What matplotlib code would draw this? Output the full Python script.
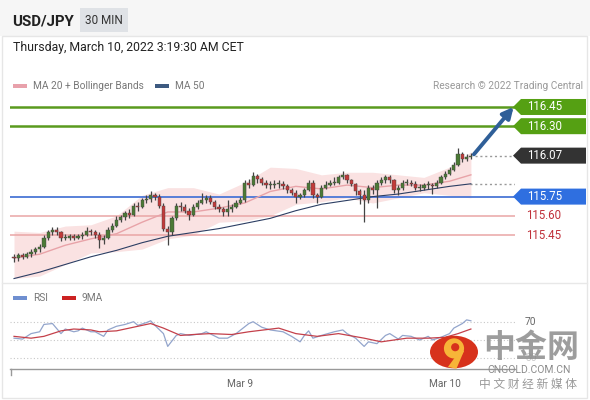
import matplotlib
matplotlib.use('Agg')
import matplotlib.pyplot as plt
from matplotlib.patches import Polygon, Rectangle, Circle
from matplotlib.lines import Line2D
import numpy as np

plt.rcParams['font.family'] = ['Roboto', 'Noto Sans CJK SC', 'DejaVu Sans']

# 30-minute candles, USD/JPY
opens = [115.28, 115.27, 115.29, 115.28, 115.30, 115.32, 115.34, 115.36, 115.43, 115.47,
         115.49, 115.47, 115.43, 115.43, 115.44, 115.43, 115.44, 115.45, 115.48, 115.47,
         115.45, 115.41, 115.43, 115.49, 115.52, 115.57, 115.59, 115.62, 115.61, 115.68,
         115.67, 115.72, 115.73, 115.76, 115.75, 115.68, 115.50, 115.47, 115.58, 115.68,
         115.67, 115.64, 115.61, 115.67, 115.70, 115.72, 115.74, 115.71, 115.67, 115.65,
         115.63, 115.65, 115.67, 115.70, 115.72, 115.86, 115.84, 115.91, 115.89, 115.86,
         115.84, 115.84, 115.85, 115.85, 115.83, 115.80, 115.78, 115.75, 115.76, 115.80,
         115.86, 115.76, 115.75, 115.82, 115.84, 115.86, 115.86, 115.90, 115.92, 115.88,
         115.85, 115.79, 115.76, 115.72, 115.82, 115.80, 115.86, 115.88, 115.90, 115.88,
         115.80, 115.82, 115.86, 115.86, 115.85, 115.82, 115.82, 115.84, 115.84, 115.83,
         115.86, 115.90, 115.93, 115.96, 116.00, 116.08, 116.04, 116.06]
highs = [115.30, 115.31, 115.31, 115.32, 115.34, 115.36, 115.38, 115.45, 115.49, 115.51,
         115.51, 115.48, 115.46, 115.46, 115.46, 115.46, 115.47, 115.51, 115.50, 115.49,
         115.47, 115.45, 115.51, 115.54, 115.60, 115.61, 115.64, 115.65, 115.70, 115.71,
         115.74, 115.76, 115.79, 115.78, 115.77, 115.70, 115.52, 115.60, 115.70, 115.71,
         115.69, 115.66, 115.69, 115.72, 115.78, 115.76, 115.76, 115.72, 115.69, 115.67,
         115.72, 115.69, 115.72, 115.75, 115.88, 115.89, 115.94, 115.93, 115.90, 115.88,
         115.87, 115.88, 115.88, 115.87, 115.85, 115.82, 115.80, 115.78, 115.82, 115.88,
         115.88, 115.78, 115.84, 115.87, 115.88, 115.90, 115.92, 115.95, 115.93, 115.89,
         115.86, 115.81, 115.80, 115.84, 115.84, 115.88, 115.90, 115.92, 115.92, 115.89,
         115.84, 115.88, 115.89, 115.88, 115.87, 115.85, 115.86, 115.87, 115.86, 115.88,
         115.92, 115.95, 115.98, 116.02, 116.13, 116.10, 116.08, 116.09]
lows = [115.24, 115.25, 115.26, 115.27, 115.28, 115.30, 115.32, 115.35, 115.41, 115.45,
        115.45, 115.40, 115.41, 115.41, 115.41, 115.42, 115.42, 115.44, 115.45, 115.43,
        115.35, 115.38, 115.42, 115.47, 115.51, 115.55, 115.57, 115.58, 115.60, 115.64,
        115.66, 115.70, 115.71, 115.72, 115.66, 115.48, 115.37, 115.45, 115.57, 115.64,
        115.62, 115.57, 115.60, 115.65, 115.69, 115.70, 115.69, 115.65, 115.63, 115.60,
        115.60, 115.63, 115.66, 115.69, 115.71, 115.82, 115.83, 115.86, 115.84, 115.82,
        115.81, 115.82, 115.82, 115.81, 115.78, 115.76, 115.70, 115.73, 115.75, 115.79,
        115.74, 115.70, 115.74, 115.81, 115.83, 115.84, 115.85, 115.89, 115.86, 115.83,
        115.76, 115.69, 115.55, 115.70, 115.77, 115.66, 115.84, 115.86, 115.86, 115.78,
        115.76, 115.80, 115.84, 115.83, 115.80, 115.79, 115.80, 115.81, 115.77, 115.82,
        115.85, 115.89, 115.92, 115.95, 115.99, 116.02, 116.03, 116.04]
closes = [115.27, 115.29, 115.28, 115.30, 115.32, 115.34, 115.36, 115.43, 115.47, 115.49,
          115.47, 115.43, 115.43, 115.44, 115.43, 115.44, 115.45, 115.48, 115.47, 115.45,
          115.41, 115.43, 115.49, 115.52, 115.57, 115.59, 115.62, 115.61, 115.68, 115.67,
          115.72, 115.73, 115.76, 115.75, 115.68, 115.50, 115.47, 115.58, 115.68, 115.67,
          115.64, 115.61, 115.67, 115.70, 115.72, 115.74, 115.71, 115.67, 115.65, 115.63,
          115.65, 115.67, 115.70, 115.72, 115.86, 115.84, 115.91, 115.89, 115.86, 115.84,
          115.84, 115.85, 115.85, 115.83, 115.80, 115.78, 115.75, 115.76, 115.80, 115.86,
          115.76, 115.75, 115.82, 115.84, 115.86, 115.86, 115.90, 115.92, 115.88, 115.85,
          115.79, 115.76, 115.72, 115.82, 115.80, 115.86, 115.88, 115.90, 115.88, 115.80,
          115.82, 115.86, 115.86, 115.85, 115.82, 115.82, 115.84, 115.84, 115.83, 115.86,
          115.90, 115.93, 115.96, 116.00, 116.08, 116.04, 116.06, 116.07]

# moving averages / Bollinger bands, sampled every 6 candles
band_idx = [0, 6, 12, 18, 24, 30, 36, 42, 48, 54, 60, 66, 72, 78, 84, 90, 96, 102, 107]
ma20 = [115.27, 115.30, 115.37, 115.42, 115.46, 115.55, 115.63, 115.63, 115.66, 115.70,
        115.79, 115.83, 115.81, 115.84, 115.82, 115.84, 115.84, 115.87, 115.92]
bb_upper = [115.48, 115.47, 115.52, 115.53, 115.60, 115.76, 115.82, 115.82, 115.77, 115.86,
            115.98, 115.97, 115.92, 115.94, 115.94, 115.92, 115.90, 115.98, 116.10]
bb_lower = [115.11, 115.13, 115.22, 115.31, 115.32, 115.34, 115.42, 115.45, 115.55, 115.56,
            115.60, 115.69, 115.71, 115.74, 115.70, 115.74, 115.78, 115.76, 115.74]
ma50 = [115.11, 115.16, 115.22, 115.28, 115.33, 115.39, 115.44, 115.47, 115.50, 115.54,
        115.58, 115.64, 115.69, 115.72, 115.75, 115.77, 115.80, 115.83, 115.85]

# key levels
resistances = [116.45, 116.30]
pivot = 115.75
supports = [115.60, 115.45]

# RSI panel
rsi_idx = [0, 2, 4, 6, 7, 9, 11, 12, 14, 15, 16, 18, 19, 21, 22, 24, 26, 28, 29, 31,
           32, 33, 35, 36, 38, 39, 41, 44, 45, 48, 50, 52, 55, 56, 58, 60, 63, 65, 67, 68,
           69, 70, 72, 75, 77, 78, 80, 82, 83, 85, 87, 88, 90, 91, 93, 95, 97, 98, 100, 102,
           103, 105, 106, 107]
rsi = [52, 51, 57, 59, 67, 68, 57, 62, 59, 60, 63, 59, 59, 54, 61, 65, 67, 70, 66, 69,
       71, 66, 57, 43, 55, 57, 55, 57, 59, 52, 52, 57, 68, 70, 64, 61, 59, 54, 48, 55,
       60, 52, 55, 59, 61, 57, 52, 43, 48, 46, 55, 57, 51, 55, 54, 50, 54, 50, 53, 57,
       63, 68, 72, 71]
rsi_ma_idx = [0, 4, 7, 11, 14, 18, 20, 24, 27, 32, 35, 39, 42, 46, 51, 55, 62, 66, 71, 76,
              82, 86, 92, 97, 101, 104, 107]
rsi_ma = [54, 52, 54, 60, 62, 61, 59, 60, 63, 68, 63, 55, 56, 57, 56, 59, 63, 57, 54, 57,
          52, 48, 52, 52, 53, 57, 62]
rsi_levels = [70, 50, 30]

date_labels = ['Mar 9', 'Mar 10']
date_idx = [53, 101]

W, H = 590, 400
fig = plt.figure(figsize=(W / 100, H / 100), dpi=100)
fig.patch.set_facecolor('white')


def fx(x):
    return x / W


def fy(y):
    return 1 - y / H


# header band and frame
fig.add_artist(Rectangle((0, fy(36)), 1, 36 / H, transform=fig.transFigure,
                         facecolor='#f6f6f6', edgecolor='none', zorder=0))
fig.add_artist(Rectangle((fx(2), fy(398)), 585 / W, 362 / H, transform=fig.transFigure,
                         facecolor='none', edgecolor='#e6e6e6', lw=1))
fig.add_artist(Line2D([fx(2), fx(587)], [fy(283), fy(283)], color='#e8e8e8', lw=1))

fig.text(fx(12), fy(21), 'USD/JPY', fontsize=10.8, fontweight='bold', color='#222222', va='center')
fig.add_artist(Rectangle((fx(80), fy(32)), 48 / W, 24 / H, transform=fig.transFigure,
                         facecolor='#dfe2e6', edgecolor='none'))
fig.text(fx(104), fy(20), '30 MIN', fontsize=8.5, color='#333333', ha='center', va='center')
fig.text(fx(13), fy(48), 'Thursday, March 10, 2022 3:19:30 AM CET', fontsize=8.8,
         color='#222222', va='center')

# legend row
fig.add_artist(Rectangle((fx(13), fy(88)), 14 / W, 4 / H, transform=fig.transFigure,
                         facecolor='#e8a1ab', edgecolor='none'))
fig.text(fx(33), fy(86), 'MA 20 + Bollinger Bands', fontsize=7.3, color='#777777', va='center')
fig.add_artist(Rectangle((fx(155), fy(88)), 14 / W, 4 / H, transform=fig.transFigure,
                         facecolor='#3d5a80', edgecolor='none'))
fig.text(fx(175), fy(86), 'MA 50', fontsize=7.3, color='#777777', va='center')
fig.text(fx(583), fy(86), 'Research \u00a9 2022 Trading Central', fontsize=7.3,
         color='#999999', va='center', ha='right')

# price panel
ax = fig.add_axes([fx(10), fy(282), 505 / W, 190 / H])
ax.set_xlim(-0.94, 117.33)
ax.set_ylim(115.083, 116.567)
ax.axis('off')

ax.fill_between(band_idx, bb_lower, bb_upper, color='#fae2e2', lw=0, zorder=1)
ax.plot(band_idx, ma20, color='#e8a3a8', lw=1, zorder=2)
ax.plot(band_idx, ma50, color='#2c3e63', lw=0.8, zorder=2)

for lvl in resistances:
    ax.axhline(lvl, color='#5a9a1e', lw=1.8, zorder=1)
ax.axhline(pivot, color='#4a76d6', lw=1.3, zorder=1)
for lvl in supports:
    ax.axhline(lvl, color='#eaa5a5', lw=1.1, zorder=1)

xs = np.arange(len(closes))
o = np.array(opens)
c = np.array(closes)
up = c >= o
cols = np.where(up, '#4b7a35', '#c23a3a')
ax.vlines(xs, lows, highs, color='#444444', lw=0.9, zorder=3)
body_lo = np.minimum(o, c)
body_h = np.maximum(np.abs(c - o), 0.006)
ax.bar(xs, body_h, bottom=body_lo, width=0.75, color=cols, edgecolor='#444444',
       linewidth=0.3, zorder=4)

ax.axhline(closes[-1], xmin=(475 - 10) / 505, xmax=1, color='#999999', lw=1,
           ls=(0, (1.5, 2)), zorder=1)
ax.axhline(ma50[-1], xmin=(470 - 10) / 505, xmax=1, color='#999999', lw=1,
           ls=(0, (1.5, 2)), zorder=1)

ax.annotate('', xy=(117.0, resistances[0]), xytext=(len(closes) - 0.3, closes[-1] + 0.01),
            arrowprops=dict(arrowstyle='-|>', color='#2f5f98', lw=2.8, mutation_scale=16,
                            shrinkA=0, shrinkB=0), annotation_clip=False, zorder=6)

trans = ax.get_yaxis_transform()
hh = 8 / 128


def fr(x):
    return (x - 10) / 505


def tag(price, color):
    pts = [(fr(513), price), (fr(521), price + hh), (fr(586), price + hh),
           (fr(586), price - hh), (fr(521), price - hh)]
    ax.add_patch(Polygon(pts, closed=True, transform=trans, facecolor=color,
                         edgecolor='none', clip_on=False, zorder=5))
    ax.text(fr(527), price, f'{price:.2f}', transform=trans, color='white', fontsize=8.3,
            va='center', ha='left', clip_on=False, zorder=6)


for lvl in resistances:
    tag(lvl, '#55a013')
tag(closes[-1], '#333333')
tag(pivot, '#2f6fe0')
for lvl in supports:
    ax.text(fr(526), lvl, f'{lvl:.2f}', transform=trans, color='#c0303a', fontsize=8.3,
            va='center', ha='left', clip_on=False)

# RSI panel
fig.add_artist(Rectangle((fx(13), fy(300)), 14 / W, 4 / H, transform=fig.transFigure,
                         facecolor='#6f8fd0', edgecolor='none'))
fig.text(fx(33), fy(298), 'RSI', fontsize=7.3, color='#777777', va='center')
fig.add_artist(Rectangle((fx(62), fy(300)), 14 / W, 4 / H, transform=fig.transFigure,
                         facecolor='#cc2222', edgecolor='none'))
fig.text(fx(82), fy(298), '9MA', fontsize=7.3, color='#777777', va='center')

ax2 = fig.add_axes([fx(10), fy(369), 505 / W, 59 / H])
ax2.set_xlim(-0.94, 117.33)
ax2.set_ylim(18.3, 82.8)
for s in ['top', 'left', 'right']:
    ax2.spines[s].set_visible(False)
ax2.spines['bottom'].set_color('#999999')
ax2.spines['bottom'].set_linewidth(1)
ax2.set_yticks([])
for lvl in rsi_levels:
    ax2.axhline(lvl, color='#c8c8c8', lw=0.8, ls=(0, (1, 2)))
ax2.plot(rsi_idx, rsi, color='#93a5cc', lw=0.9)
ax2.plot(rsi_ma_idx, rsi_ma, color='#c4404a', lw=0.9)
ax2.set_xticks(date_idx, date_labels)
ax2.tick_params(axis='x', length=0, pad=7, labelsize=7.3, labelcolor='#666666')
ax2.text(1.02, rsi_levels[0], str(rsi_levels[0]), transform=ax2.get_yaxis_transform(),
         fontsize=7.3, color='#666666', va='center', clip_on=False)
ax2.text(1.02, rsi_levels[2], str(rsi_levels[2]), transform=ax2.get_yaxis_transform(),
         fontsize=7.3, color='#666666', va='center', clip_on=False, alpha=0.35)
fig.add_artist(Line2D([fx(11), fx(11)], [fy(369), fy(375)], color='#999999', lw=1))

# watermark
fig.add_artist(Circle((fx(454), fy(352)), 24 / W, transform=fig.transFigure,
                      facecolor='#d7321c', edgecolor='none', zorder=10))
wm = fig.add_axes([fx(430), fy(376), 48 / W, 48 / H], zorder=11)
wm.set_xlim(-1, 1)
wm.set_ylim(-1, 1)
wm.axis('off')
wm.add_patch(Circle((0.0, 0.15), 0.42, facecolor='#f7b538', edgecolor='none'))
wm.add_patch(Circle((0.05, 0.2), 0.17, facecolor='#d7321c', edgecolor='none'))
wm.add_patch(Polygon([(0.2, 0.0), (0.42, 0.05), (0.1, -0.7), (-0.25, -0.62)],
                     facecolor='#f7b538', edgecolor='none'))
fig.text(fx(531), fy(348), '中金网', fontsize=23, fontweight='bold', color='#8c8c8c',
         alpha=0.85, ha='center', va='center', family=['Noto Sans CJK SC'], zorder=12)
fig.text(fx(529), fy(370), 'CNGOLD.COM.CN', fontsize=7.5, color='#8c8c8c',
         ha='center', va='center', zorder=12)
fig.text(fx(528), fy(384), '中 文 财 经 新 媒 体', fontsize=8.5, color='#999999',
         ha='center', va='center', family=['Noto Sans CJK SC'], zorder=12)

fig.savefig('out.png', dpi=100, facecolor='white')
